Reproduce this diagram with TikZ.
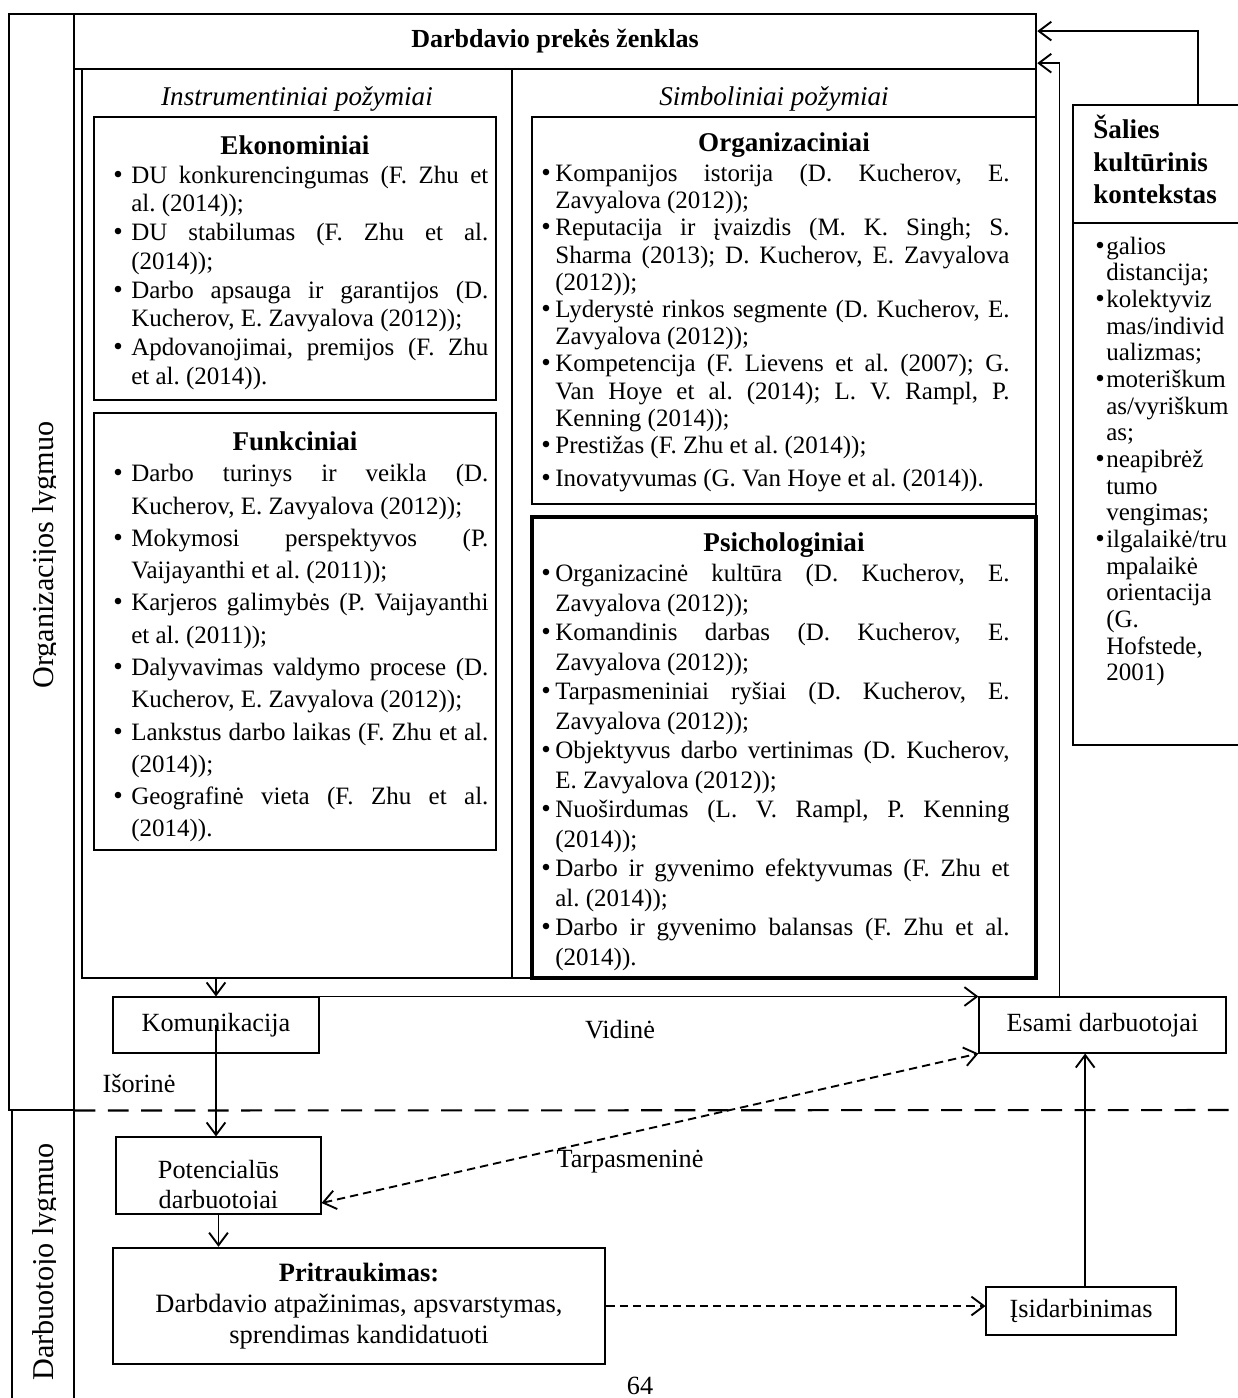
\documentclass[tikz,border=0pt]{standalone}
\usepackage{fontspec}
\setmainfont{Liberation Serif}
\usetikzlibrary{arrows.meta,fit}
\newcommand\bitem[2]{\par\noindent\hangindent=#1\hangafter=1\makebox[#1][l]{{\fontsize{13pt}{13pt}\selectfont\textbullet}}#2\par}
\newcommand\listsetup{\tolerance=10000\hbadness=10000\hyphenpenalty=10000\exhyphenpenalty=10000\parindent=0pt\frenchspacing}
\begin{document}
\begin{tikzpicture}[x=0.48pt,y=-0.48pt,
  frame/.style={draw, line width=0.5pt, inner sep=0pt},
  bframe/.style={draw, line width=1.2pt, inner sep=0pt},
  txt/.style={inner sep=0pt, font=\fontsize{12.6pt}{15pt}\selectfont},
  ttl/.style={inner sep=0pt, font=\bfseries\fontsize{13pt}{15pt}\selectfont},
  lst/.style n args={2}{inner sep=0pt, anchor=north west, text width=#1, align=justify, font=\fontsize{12pt}{#2}\selectfont},
  tip/.style={-{Straight Barb[length=6pt,width=9pt]}},
  conn/.style={line width=0.9pt, tip},
  dconn/.style={line width=0.9pt, dash pattern=on 4pt off 2.4pt},
  sepline/.style={line width=1pt, dash pattern=on 10pt off 6pt},
]
\useasboundingbox (0,0) rectangle (1237,1398);

% level columns
\node[frame, fit={(9,14)(74,1110)}] (orgcol) {};
\node[frame, fit={(12,1110)(74,1420)}] (darbcol) {};
\begin{scope}
  \clip (20,300) rectangle (55.5,850);
  \node[txt, font=\fontsize{14.5pt}{14.5pt}\selectfont, rotate=90, anchor=base] (orglbl) at (54,555) {Organizacijos lygmuo};
\end{scope}
\begin{scope}
  \clip (20,1120) rectangle (55.5,1398);
  \node[txt, font=\fontsize{14.5pt}{14.5pt}\selectfont, rotate=90, anchor=base] (darblbl) at (54,1262) {Darbuotojo lygmuo};
\end{scope}

% header
\node[bframe, fit={(74,14)(1036,69)}] (hdr) {};
\node[txt, font=\bfseries\fontsize{12.5pt}{14pt}\selectfont] (hdrtxt) at (hdr.center) {Darbdavio prekės ženklas};

% inner frame
\node[frame, fit={(82,69)(1036,978)}] (inner) {};
\draw[line width=0.5pt] (512,69) -- (512,978);
\node[txt, font=\itshape\fontsize{13pt}{15pt}\selectfont] (instr) at (297,99) {Instrumentiniai požymiai};
\node[txt, font=\itshape\fontsize{13pt}{15pt}\selectfont] (simb) at (774,99) {Simboliniai požymiai};

% Ekonominiai
\node[bframe, fit={(94,117)(496,400)}] (ekon) {};
\node[ttl] (ekont) at (295,145) {Ekonominiai};
\node[lst={180pt}{13.8pt}] (ekonl) at (113,154) {\listsetup
\bitem{8.6pt}{DU konkurencingumas (F. Zhu et\linebreak al. (2014));}
\bitem{8.6pt}{DU stabilumas (F. Zhu et al.\linebreak (2014));}
\bitem{8.6pt}{Darbo apsauga ir garantijos (D.\linebreak Kucherov, E. Zavyalova (2012));}
\bitem{8.6pt}{Apdovanojimai, premijos (F. Zhu\linebreak et al. (2014)).}};

% Funkciniai
\node[bframe, fit={(94,413)(496,850)}] (funk) {};
\node[ttl] (funkt) at (295,441) {Funkciniai};
\node[lst={180pt}{15.5pt}] (funkl) at (113,449) {\listsetup
\bitem{8.6pt}{Darbo turinys ir veikla (D.\linebreak Kucherov, E. Zavyalova (2012));}
\bitem{8.6pt}{Mokymosi perspektyvos (P.\linebreak Vaijayanthi et al. (2011));}
\bitem{8.6pt}{Karjeros galimybės (P. Vaijayanthi\linebreak et al. (2011));}
\bitem{8.6pt}{Dalyvavimas valdymo procese (D.\linebreak Kucherov, E. Zavyalova (2012));}
\bitem{8.6pt}{Lankstus darbo laikas (F. Zhu et al.\linebreak (2014));}
\bitem{8.6pt}{Geografinė vieta (F. Zhu et al.\linebreak (2014)).}};

% Organizaciniai
\node[bframe, fit={(532,117)(1036,504)}] (org) {};
\node[ttl] (orgt) at (784,145) {Organizaciniai};
\node[lst={224.7pt}{13.05pt}] (orgl) at (541,154) {\listsetup
\bitem{6.7pt}{Kompanijos istorija (D. Kucherov, E.\linebreak Zavyalova (2012));}
\bitem{6.7pt}{Reputacija ir įvaizdis (M. K. Singh; S.\linebreak Sharma (2013); D. Kucherov, E. Zavyalova\linebreak (2012));}
\bitem{6.7pt}{Lyderystė rinkos segmente (D. Kucherov, E.\linebreak Zavyalova (2012));}
\bitem{6.7pt}{Kompetencija (F. Lievens et al. (2007); G.\linebreak Van Hoye et al. (2014); L. V. Rampl, P.\linebreak Kenning (2014));}
\bitem{6.7pt}{Prestižas (F. Zhu et al. (2014));}
\vspace{3pt}
\bitem{6.7pt}{Inovatyvumas (G. Van Hoye et al. (2014)).}};

% Psichologiniai
\node[bframe, line width=1.6pt, fit={(532,517)(1036,978)}] (psi) {};
\node[ttl] (psit) at (784,545) {Psichologiniai};
\node[lst={224.7pt}{14.15pt}] (psil) at (541,552) {\listsetup
\bitem{6.7pt}{Organizacinė kultūra (D. Kucherov, E.\linebreak Zavyalova (2012));}
\bitem{6.7pt}{Komandinis darbas (D. Kucherov, E.\linebreak Zavyalova (2012));}
\bitem{6.7pt}{Tarpasmeniniai ryšiai (D. Kucherov, E.\linebreak Zavyalova (2012));}
\bitem{6.7pt}{Objektyvus darbo vertinimas (D. Kucherov,\linebreak E. Zavyalova (2012));}
\bitem{6.7pt}{Nuoširdumas (L. V. Rampl, P. Kenning\linebreak (2014));}
\bitem{6.7pt}{Darbo ir gyvenimo efektyvumas (F. Zhu et\linebreak al. (2014));}
\bitem{6.7pt}{Darbo ir gyvenimo balansas (F. Zhu et al.\linebreak (2014)).}};

% Salies kulturinis kontekstas
\node[frame, fit={(1073,105)(1250,223)}] (salt) {};
\node[frame, fit={(1073,223)(1250,745)}] (sal) {};
\node[inner sep=0pt, anchor=north west, align=left, font=\bfseries\fontsize{13pt}{15.4pt}\selectfont] (saltxt) at (1093,115) {Šalies\\kultūrinis\\kontekstas};
\node[inner sep=0pt, anchor=north west, text width=80pt, align=left, font=\fontsize{12pt}{12.8pt}\selectfont] (sallst) at (1095,227) {\listsetup
\bitem{5.2pt}{galios\newline distancija;}
\bitem{5.2pt}{kolektyviz\newline mas/individ\newline ualizmas;}
\bitem{5.2pt}{moteriškum\newline as/vyriškum\newline as;}
\bitem{5.2pt}{neapibrėž\newline tumo\newline vengimas;}
\bitem{5.2pt}{ilgalaikė/tru\newline mpalaikė\newline orientacija\newline (G.\newline Hofstede,\newline 2001)}};

% lower part
\node[frame, fit={(113,997)(319,1053)}] (kom) {};
\node[txt] (komt) at (kom.center) {Komunikacija};
\node[frame, fit={(979,997)(1226,1053)}] (esa) {};
\node[txt] (esat) at (esa.center) {Esami darbuotojai};
\node[frame, fit={(116,1137)(321,1214)}] (pot) {};
\begin{scope}
  \clip (116,1137) rectangle (321,1208);
  \node[txt, align=center, font=\fontsize{12.6pt}{14.6pt}\selectfont] (pott) at (218.5,1187) {Potencialūs\\darbuotojai};
\end{scope}
\node[bframe, fit={(113,1248)(605,1364)}] (pri) {};
\node[txt, align=center, font=\fontsize{12.7pt}{15pt}\selectfont] (prit) at (pri.center) {\textbf{Pritraukimas:}\\Darbdavio atpažinimas, apsvarstymas,\\sprendimas kandidatuoti};
\node[frame, fit={(986,1287)(1176,1335)}] (isi) {};
\node[txt] (isit) at (isi.center) {Įsidarbinimas};

\node[txt] (vid) at (620,1030) {Vidinė};
\node[txt] (iso) at (139,1083) {Išorinė};
\node[txt] (tarp) at (630,1162) {Tarpasmeninė};
\node[txt] (pg) at (640,1386) {64};

% separator
\coordinate (sepend) at (1245,1110);
\draw[sepline] (orgcol.south east) -- (sepend);

% connectors
\draw[conn] (inner.south -| kom.north) -- (kom.north);
\draw[conn] (kom.center) -- (kom.center |- pot.north);
\draw[conn] (pot.south) -- (pot.south |- pri.north);
\draw[conn] (kom.north east) -- (esa.north west);
\draw[dconn, {Straight Barb[length=6pt,width=9pt]}-{Straight Barb[length=6pt,width=9pt]}] ([yshift=-13.2pt]pot.east) -- (esa.south west);
\draw[dconn, tip] (pri.east) -- (isi.west |- pri.east);
\draw[conn] ([xshift=2pt]isi.north) -- ([xshift=2pt]isi.north |- esa.south);
\draw[conn] ([xshift=38.9pt]esa.north west) |- ([yshift=3.4pt]hdr.south east);
\draw[conn] ([xshift=17.5pt]salt.north) |- ([yshift=5pt]hdr.east);
\end{tikzpicture}
\end{document}
